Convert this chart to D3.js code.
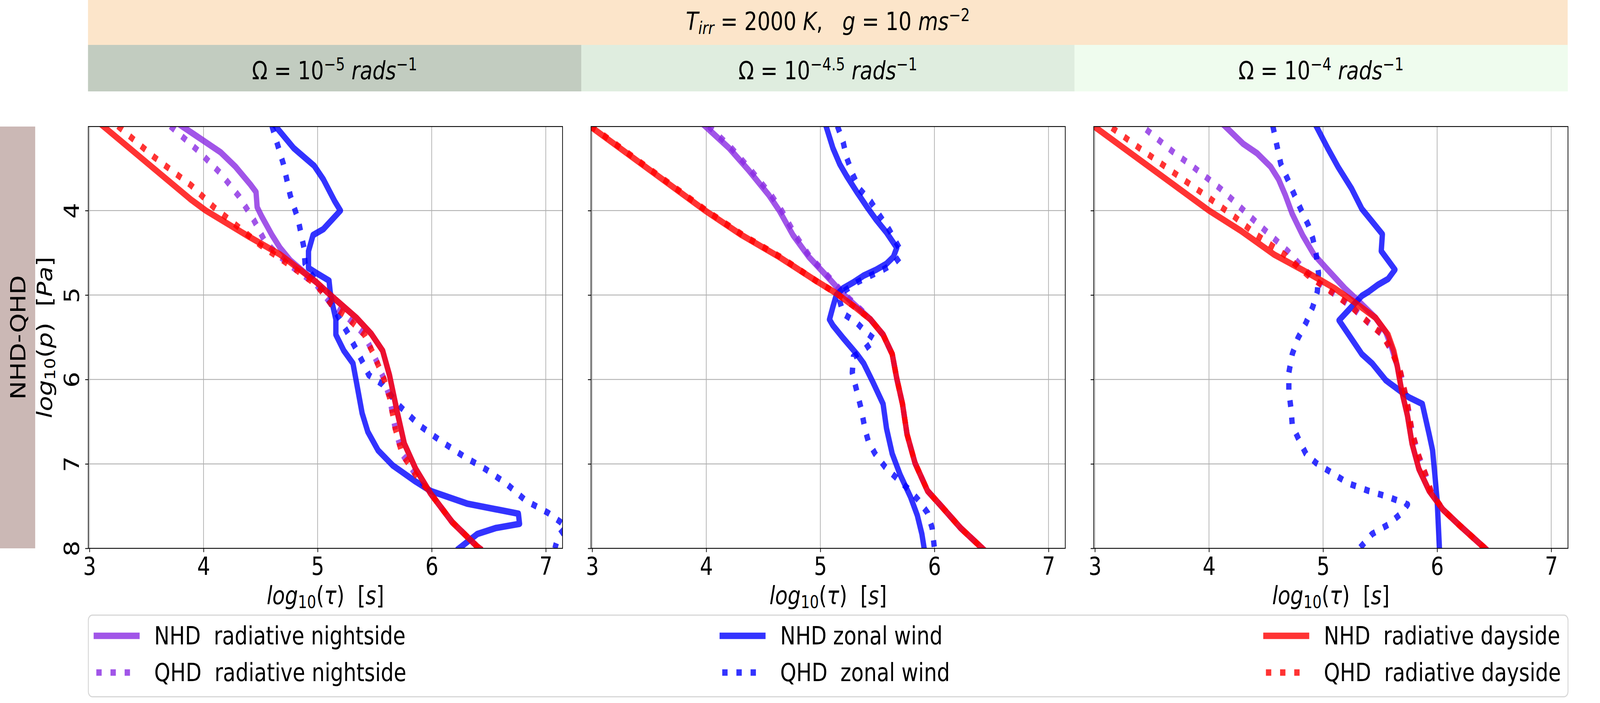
<!DOCTYPE html>
<html><head><meta charset="utf-8">
<script src="https://cdn.jsdelivr.net/npm/d3@7/dist/d3.min.js"></script>
<style>
html,body{margin:0;padding:0;background:#fff;overflow:hidden;width:100%;height:100%}
#chart{display:block;width:100vw;height:100vh}
text{font-family:'DejaVu Sans';white-space:pre}
</style>
</head><body>
<svg id="chart" viewBox="0 0 5000 1800" preserveAspectRatio="none" xmlns="http://www.w3.org/2000/svg"></svg>
<script>
// ---------- data: [log10(tau) s, log10(p) Pa] ----------
const xTicks = [3, 4, 5, 6, 7];
const yTicks = [4, 5, 6, 7, 8];
const panelTitles = ["-5", "-4.5", "-4"];
const legendLabels = ["NHD  radiative nightside", "QHD  radiative nightside", "NHD zonal wind", "QHD  zonal wind", "NHD  radiative dayside", "QHD  radiative dayside"];

// Panel 1: Omega = 1e-5
const p1NhdNight = [[3.81,3.0],[4.15,3.31],[4.28,3.48],[4.41,3.69],[4.46,3.78],[4.47,3.96],[4.51,4.07],[4.60,4.29],[4.67,4.44],[4.76,4.59],[4.89,4.74],[4.99,4.85],[5.12,5.01],[5.34,5.27],[5.47,5.46],[5.57,5.66],[5.63,5.95],[5.70,6.40],[5.76,6.76],[5.86,7.06],[5.99,7.35],[6.18,7.69],[6.40,7.98],[6.42,8.0]];
const p1QhdNight = [[3.71,3.0],[3.96,3.30],[4.15,3.56],[4.31,3.83],[4.44,4.11],[4.54,4.37],[4.65,4.52],[4.76,4.65],[4.99,4.88],[5.12,5.11],[5.25,5.25],[5.41,5.47],[5.50,5.73],[5.58,5.99],[5.63,6.21],[5.68,6.58],[5.74,6.88],[5.86,7.13],[5.99,7.35],[6.18,7.69],[6.40,7.98],[6.42,8.0]];
const p1NhdWind = [[4.63,3.0],[4.79,3.26],[4.97,3.47],[5.05,3.63],[5.15,3.89],[5.20,4.0],[5.05,4.22],[4.96,4.29],[4.92,4.48],[4.92,4.68],[4.99,4.74],[5.10,4.83],[5.11,4.96],[5.13,5.11],[5.16,5.29],[5.16,5.47],[5.23,5.66],[5.31,5.81],[5.34,6.03],[5.39,6.40],[5.44,6.62],[5.53,6.84],[5.66,7.02],[5.86,7.21],[5.99,7.32],[6.31,7.47],[6.76,7.59],[6.77,7.71],[6.56,7.76],[6.40,7.83],[6.24,8.0]];
const p1QhdWind = [[4.60,3.0],[4.70,3.45],[4.76,3.82],[4.83,4.11],[4.88,4.44],[4.89,4.63],[4.97,4.81],[5.05,4.96],[5.15,5.18],[5.26,5.44],[5.36,5.70],[5.45,5.95],[5.57,6.06],[5.70,6.29],[5.89,6.54],[6.08,6.73],[6.28,6.91],[6.47,7.06],[6.66,7.24],[6.82,7.43],[7.02,7.58],[7.13,7.69],[7.18,7.75],[7.11,7.85],[7.08,8.0]];
const p1NhdDay = [[3.12,3.0],[3.89,3.87],[4.02,4.0],[4.40,4.31],[4.67,4.52],[4.99,4.85],[5.12,5.01],[5.34,5.27],[5.47,5.46],[5.57,5.66],[5.63,5.95],[5.70,6.40],[5.76,6.76],[5.86,7.06],[5.99,7.35],[6.18,7.69],[6.40,7.98],[6.42,8.0]];
const p1QhdDay = [[3.25,3.0],[3.57,3.37],[3.89,3.70],[4.09,3.96],[4.31,4.20],[4.50,4.41],[4.76,4.65],[4.99,4.88],[5.12,5.11],[5.25,5.25],[5.41,5.47],[5.50,5.73],[5.58,5.99],[5.63,6.21],[5.68,6.58],[5.74,6.88],[5.86,7.13],[5.99,7.35],[6.18,7.69],[6.40,7.98],[6.42,8.0]];

// Panel 2: Omega = 1e-4.5
const p2NhdNight = [[3.99,3.0],[4.20,3.26],[4.37,3.52],[4.55,3.82],[4.64,4.0],[4.76,4.29],[4.90,4.55],[5.08,4.81],[5.20,4.99],[5.32,5.14],[5.44,5.29],[5.55,5.47],[5.63,5.70],[5.67,5.99],[5.72,6.29],[5.76,6.65],[5.83,6.99],[5.94,7.32],[6.06,7.50],[6.23,7.76],[6.42,8.0]];
const p2QhdNight = [[4.02,3.0],[4.22,3.26],[4.39,3.52],[4.57,3.82],[4.66,4.0],[4.78,4.29],[4.91,4.55],[5.09,4.81],[5.21,4.99],[5.33,5.14],[5.44,5.29],[5.55,5.47],[5.63,5.70],[5.67,5.99],[5.72,6.29],[5.76,6.65],[5.83,6.99],[5.94,7.32],[6.06,7.50],[6.23,7.76],[6.42,8.0]];
const p2NhdWind = [[5.05,3.0],[5.11,3.26],[5.17,3.45],[5.23,3.59],[5.32,3.78],[5.41,3.96],[5.49,4.11],[5.58,4.26],[5.67,4.44],[5.64,4.55],[5.58,4.63],[5.49,4.70],[5.38,4.77],[5.29,4.85],[5.20,4.92],[5.14,5.00],[5.11,5.14],[5.08,5.29],[5.11,5.36],[5.20,5.51],[5.32,5.70],[5.38,5.81],[5.46,6.03],[5.55,6.29],[5.58,6.58],[5.63,6.88],[5.70,7.13],[5.79,7.39],[5.85,7.61],[5.89,7.83],[5.91,8.0]];
const p2QhdWind = [[5.15,3.0],[5.20,3.19],[5.23,3.37],[5.28,3.56],[5.34,3.74],[5.44,3.89],[5.51,4.04],[5.60,4.22],[5.69,4.44],[5.70,4.55],[5.64,4.63],[5.55,4.70],[5.44,4.77],[5.32,4.85],[5.20,4.96],[5.17,5.07],[5.20,5.22],[5.32,5.33],[5.40,5.44],[5.48,5.53],[5.39,5.64],[5.29,5.73],[5.28,5.92],[5.32,6.14],[5.36,6.36],[5.39,6.58],[5.42,6.73],[5.48,6.88],[5.57,7.04],[5.67,7.17],[5.79,7.32],[5.86,7.43],[5.94,7.58],[5.98,7.76],[6.00,8.0]];
const p2NhdDay = [[2.98,3.0],[3.99,4.0],[4.31,4.29],[4.64,4.55],[4.96,4.83],[5.14,4.98],[5.32,5.16],[5.44,5.29],[5.55,5.47],[5.63,5.70],[5.67,5.99],[5.72,6.29],[5.76,6.65],[5.83,6.99],[5.94,7.32],[6.06,7.50],[6.23,7.76],[6.42,8.0]];
const p2QhdDay = [[2.99,3.0],[4.0,4.0],[4.32,4.29],[4.65,4.55],[4.96,4.83],[5.14,4.98],[5.32,5.16],[5.44,5.29],[5.55,5.47],[5.63,5.70],[5.67,5.99],[5.72,6.29],[5.76,6.65],[5.83,6.99],[5.94,7.32],[6.06,7.50],[6.23,7.76],[6.42,8.0]];

// Panel 3: Omega = 1e-4
const p3NhdNight = [[4.14,3.0],[4.30,3.21],[4.42,3.32],[4.54,3.48],[4.61,3.63],[4.67,3.82],[4.73,4.04],[4.82,4.29],[4.92,4.52],[5.04,4.70],[5.19,4.92],[5.34,5.11],[5.46,5.27],[5.55,5.44],[5.60,5.62],[5.65,5.84],[5.69,6.14],[5.74,6.43],[5.78,6.76],[5.84,7.06],[5.93,7.32],[6.05,7.54],[6.19,7.72],[6.37,7.94],[6.42,8.0]];
const p3QhdNight = [[3.45,3.04],[3.68,3.30],[3.86,3.48],[3.98,3.61],[4.10,3.74],[4.22,3.89],[4.36,4.07],[4.48,4.22],[4.57,4.33],[4.69,4.48],[4.81,4.66],[4.92,4.81],[5.07,4.96],[5.25,5.14],[5.40,5.33],[5.52,5.47],[5.60,5.66],[5.68,5.92],[5.74,6.29],[5.78,6.62],[5.84,6.91],[5.90,7.13],[5.95,7.34],[6.05,7.54],[6.19,7.72],[6.37,7.94],[6.42,8.0]];
const p3NhdWind = [[4.94,3.0],[5.04,3.26],[5.13,3.48],[5.25,3.74],[5.34,3.98],[5.43,4.13],[5.52,4.28],[5.51,4.48],[5.57,4.59],[5.63,4.70],[5.57,4.81],[5.48,4.88],[5.40,4.96],[5.34,5.01],[5.25,5.14],[5.14,5.30],[5.22,5.46],[5.34,5.70],[5.43,5.81],[5.55,6.01],[5.66,6.12],[5.75,6.21],[5.87,6.29],[5.90,6.47],[5.93,6.65],[5.96,6.84],[5.98,7.13],[6.00,7.43],[6.02,8.0]];
const p3QhdWind = [[4.56,3.0],[4.60,3.26],[4.63,3.45],[4.69,3.63],[4.75,3.82],[4.81,4.0],[4.87,4.17],[4.91,4.33],[4.94,4.52],[4.96,4.74],[4.95,4.96],[4.91,5.14],[4.85,5.33],[4.78,5.51],[4.73,5.70],[4.70,5.92],[4.70,6.14],[4.72,6.36],[4.73,6.54],[4.78,6.69],[4.85,6.88],[4.94,6.99],[5.07,7.10],[5.22,7.23],[5.40,7.32],[5.57,7.39],[5.74,7.48],[5.69,7.58],[5.57,7.72],[5.43,7.83],[5.32,8.0]];
const p3NhdDay = [[2.99,3.0],[4.0,4.0],[4.28,4.24],[4.57,4.52],[4.87,4.74],[5.10,4.92],[5.28,5.09],[5.46,5.27],[5.57,5.47],[5.62,5.66],[5.65,5.84],[5.69,6.14],[5.74,6.43],[5.78,6.76],[5.84,7.06],[5.93,7.32],[6.05,7.54],[6.19,7.72],[6.37,7.94],[6.42,8.0]];
const p3QhdDay = [[3.15,3.02],[3.39,3.26],[3.68,3.54],[3.98,3.83],[4.22,4.07],[4.42,4.29],[4.66,4.52],[4.87,4.77],[5.07,4.96],[5.25,5.14],[5.40,5.33],[5.52,5.47],[5.60,5.66],[5.68,5.92],[5.74,6.29],[5.78,6.62],[5.84,6.91],[5.90,7.13],[5.95,7.34],[6.05,7.54],[6.19,7.72],[6.37,7.94],[6.42,8.0]];

const panelData = [
  [p1NhdNight, p1QhdNight, p1NhdWind, p1QhdWind, p1NhdDay, p1QhdDay],
  [p2NhdNight, p2QhdNight, p2NhdWind, p2QhdWind, p2NhdDay, p2QhdDay],
  [p3NhdNight, p3QhdNight, p3NhdWind, p3QhdWind, p3NhdDay, p3QhdDay]
];

// ---------- styles ----------
const seriesColor = ["#8a2be2", "#8a2be2", "#0000ff", "#0000ff", "#ff0000", "#ff0000"];
const seriesDotted = [false, true, false, true, false, true];
const LW = 16.7;
const FS = 64;

const svg = d3.select("#chart");
const plotLefts = [276, 1847, 3418];
const plotW = 1482, plotTop = 324, plotH = 1080;
const bandLeft = 275, bandRight = 4899;

// math-ish text helper
function richText(g, segs, size) {
  const t = g.append("text").attr("font-size", size).attr("fill", "#000");
  let off = 0;
  segs.forEach(s => {
    const sp = t.append("tspan").text(s.t);
    let target = 0;
    if (s.sub) { target = 0.16 * size; sp.attr("font-size", size * 0.7); }
    if (s.sup) { target = -0.36 * size; sp.attr("font-size", size * 0.7); }
    if (target !== off) { sp.attr("dy", target - off); off = target; }
    if (s.i) sp.attr("font-style", "italic");
  });
  return t;
}

// ---------- header bands ----------
svg.append("rect").attr("x", bandLeft).attr("y", 0).attr("width", bandRight - bandLeft).attr("height", 115).attr("fill", "#fce5ca");
const rowColors = ["#c2ccc0", "#dfeddf", "#effcee"];
const bw = (bandRight - bandLeft) / 3;
rowColors.forEach((c, i) => {
  svg.append("rect").attr("x", bandLeft + i * bw).attr("y", 115).attr("width", bw + 0.5).attr("height", 119).attr("fill", c);
});
richText(svg.append("g").attr("transform", `translate(${(bandLeft + bandRight) / 2},77)`),
  [{t:"T",i:1},{t:"irr",i:1,sub:1},{t:" = 2000 "},{t:"K",i:1},{t:",   "},{t:"g",i:1},{t:" = 10 "},{t:"ms",i:1},{t:"−2",sup:1}], FS)
  .attr("text-anchor", "middle");
panelTitles.forEach((p, i) => {
  richText(svg.append("g").attr("transform", `translate(${bandLeft + (i + 0.5) * bw},203)`),
    [{t:"Ω = 10"},{t:p.replace("-", "−"),sup:1},{t:" "},{t:"rads",i:1},{t:"−1",sup:1}], FS)
    .attr("text-anchor", "middle");
});

// left row band
svg.append("rect").attr("x", 0).attr("y", plotTop).attr("width", 110).attr("height", plotH).attr("fill", "#cbb8b5");
svg.append("text").attr("transform", `translate(79,${plotTop + plotH / 2}) rotate(-90)`)
  .attr("text-anchor", "middle").attr("font-size", FS).text("NHD-QHD");

// ---------- panels ----------
const x = d3.scaleLinear().domain([2.99, 7.147]).range([0, plotW]);
const y = d3.scaleLinear().domain([3.005, 8]).range([0, plotH]);

panelData.forEach((series, pi) => {
  const g = svg.append("g").attr("transform", `translate(${plotLefts[pi]},${plotTop})`);
  const clipId = "clip" + pi;
  g.append("clipPath").attr("id", clipId).append("rect").attr("width", plotW).attr("height", plotH);
  // grid
  const grid = g.append("g");
  xTicks.forEach(v => grid.append("line").attr("x1", x(v)).attr("x2", x(v)).attr("y1", 0).attr("y2", plotH)
    .attr("stroke", "#b0b0b0").attr("stroke-width", 2.2));
  yTicks.forEach(v => grid.append("line").attr("y1", y(v)).attr("y2", y(v)).attr("x1", 0).attr("x2", plotW)
    .attr("stroke", "#b0b0b0").attr("stroke-width", 2.2));
  // lines
  const line = d3.line().x(d => x(d[0])).y(d => y(d[1]));
  const lg = g.append("g").attr("clip-path", `url(#${clipId})`);
  series.forEach((data, si) => {
    const p = lg.append("path").attr("d", line(data)).attr("fill", "none")
      .attr("stroke", seriesColor[si]).attr("stroke-opacity", 0.8).attr("stroke-width", LW)
      .attr("stroke-linejoin", "round");
    if (seriesDotted[si]) p.attr("stroke-dasharray", `${LW} ${LW * 1.65}`).attr("stroke-linecap", "butt");
    else p.attr("stroke-linecap", "square");
  });
  // axes
  const xa = g.append("g").attr("transform", `translate(0,${plotH})`)
    .call(d3.axisBottom(x).tickValues(xTicks).tickFormat(d3.format("d")).tickSize(9.7).tickPadding(9.7));
  const ya = g.append("g")
    .call(d3.axisLeft(y).tickValues(yTicks).tickFormat(pi === 0 ? d3.format("d") : "").tickSize(9.7));
  [xa, ya].forEach(a => {
    a.select(".domain").remove();
    a.selectAll(".tick line").attr("stroke", "#000").attr("stroke-width", 2.2);
  });
  xa.selectAll(".tick text").attr("font-size", FS).attr("font-family", "DejaVu Sans").attr("fill", "#000")
    .attr("dy", null).attr("y", 68).attr("dominant-baseline", "auto");
  if (pi === 0) {
    ya.selectAll(".tick text").attr("font-size", FS).attr("font-family", "DejaVu Sans").attr("fill", "#000")
      .attr("x", null).attr("dy", null).attr("text-anchor", "middle")
      .attr("transform", "translate(-29,0) rotate(-90)");
  } else {
    ya.selectAll(".tick text").remove();
  }
  // spines
  g.append("rect").attr("width", plotW).attr("height", plotH).attr("fill", "none").attr("stroke", "#000").attr("stroke-width", 2.2);
  // x label
  richText(g.append("g").attr("transform", `translate(${plotW / 2},${1547 - plotTop})`),
    [{t:"log",i:1},{t:"10",sub:1},{t:"("},{t:"τ",i:1},{t:")  ["},{t:"s",i:1},{t:"]"}], FS)
    .attr("text-anchor", "middle");
  if (pi === 0) {
    richText(g.append("g").attr("transform", `translate(${162 - plotLefts[0]},${plotH / 2}) rotate(-90)`),
      [{t:"log",i:1},{t:"10",sub:1},{t:"("},{t:"p",i:1},{t:")  ["},{t:"Pa",i:1},{t:"]"}], FS)
      .attr("text-anchor", "middle");
  }
});

// ---------- legend ----------
const leg = svg.append("g");
leg.append("rect").attr("x", 276).attr("y", 1575).attr("width", 4624).attr("height", 209).attr("rx", 13)
  .attr("fill", "#fff").attr("fill-opacity", 0.8).attr("stroke", "#d6d6d6").attr("stroke-width", 2.8);
const colX = [301, 2257, 3956];
const rowY = [1628, 1722];
legendLabels.forEach((lab, i) => {
  const c = Math.floor(i / 2), r = i % 2;
  const hx = colX[c], hy = rowY[r];
  const l = leg.append("line").attr("x1", hx).attr("x2", hx + 127).attr("y1", hy).attr("y2", hy)
    .attr("stroke", seriesColor[i]).attr("stroke-opacity", 0.8).attr("stroke-width", LW);
  if (seriesDotted[i]) l.attr("stroke-dasharray", `${LW} ${LW * 1.65}`).attr("stroke-linecap", "butt");
  else l.attr("stroke-linecap", "square");
  leg.append("text").attr("x", hx + 181).attr("y", hy + 22).attr("font-size", FS).text(lab);
});
</script>
</body></html>
